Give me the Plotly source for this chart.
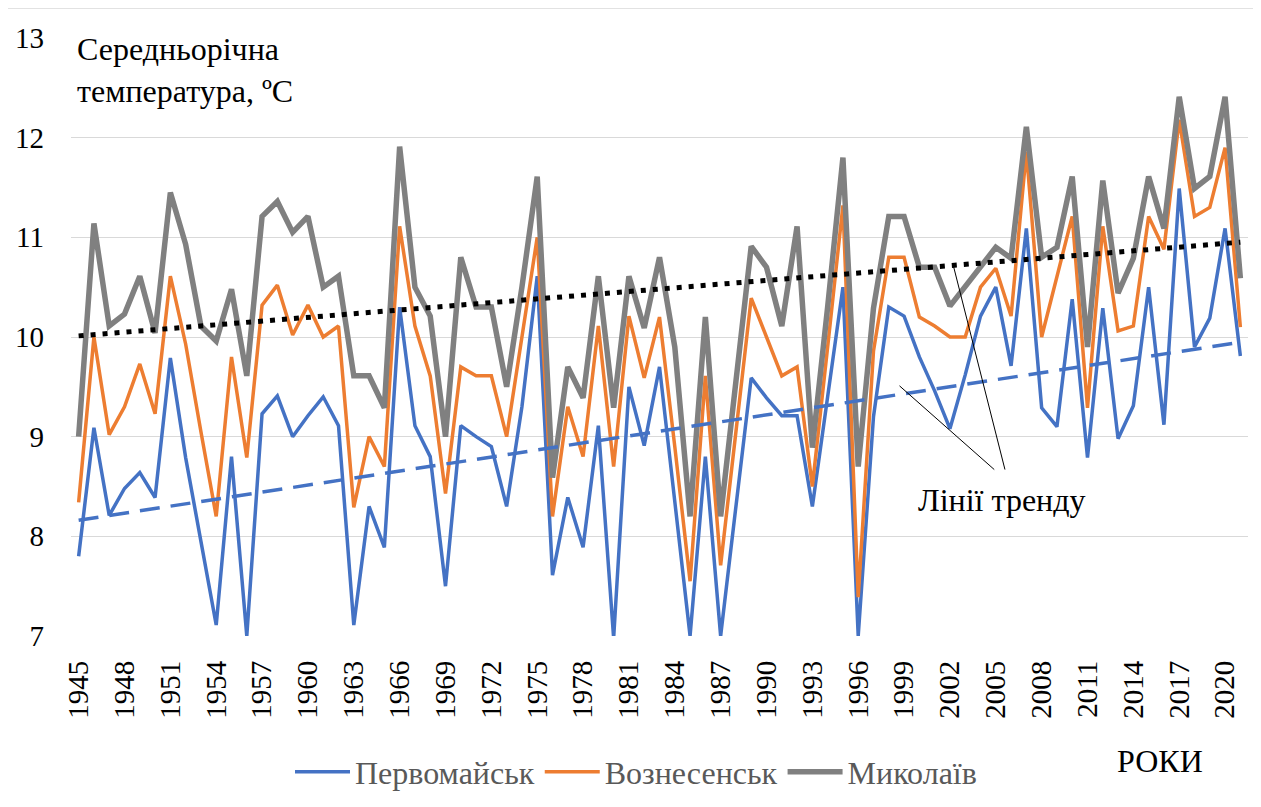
import numpy as np
import plotly.graph_objects as go

years = list(range(1945, 2022))

pervomaisk = [7.80, 9.09, 8.21, 8.48, 8.64, 8.39, 9.79, 8.79, 7.95, 7.11,
              8.80, 7.00, 9.23, 9.41, 9.00, 9.21, 9.40, 9.11, 7.11, 8.30,
              7.89, 10.30, 9.11, 8.80, 7.50, 9.11, 9.00, 8.90, 8.30, 9.30,
              10.61, 7.61, 8.39, 7.89, 9.11, 6.98, 9.50, 8.91, 9.70, 8.35,
              7.00, 8.80, 7.00, 8.30, 9.59, 9.39, 9.21, 9.21, 8.30, 9.40,
              10.50, 7.00, 9.20, 10.30, 10.21, 9.80, 9.46, 9.08, 9.62, 10.21,
              10.50, 9.71, 11.09, 9.29, 9.10, 10.38, 8.79, 10.29, 8.98, 9.31,
              10.50, 9.12, 11.49, 9.90, 10.19, 11.09, 9.81]

voznesensk = [8.34, 10.00, 9.02, 9.30, 9.73, 9.23, 10.61, 9.93, 9.05, 8.20,
              9.80, 8.79, 10.32, 10.52, 10.02, 10.32, 10.00, 10.11, 8.29, 9.00,
              8.70, 11.11, 10.11, 9.61, 8.43, 9.70, 9.61, 9.61, 9.00, 10.00,
              11.00, 8.20, 9.30, 8.80, 10.11, 8.70, 10.21, 9.59, 10.20, 8.90,
              7.55, 9.61, 7.71, 9.05, 10.39, 10.00, 9.61, 9.70, 8.50, 9.90,
              11.32, 7.39, 9.86, 10.80, 10.80, 10.20, 10.11, 10.00, 10.00, 10.50,
              10.69, 10.21, 11.86, 10.00, 10.60, 11.21, 9.29, 11.11, 10.06, 10.11,
              11.21, 10.88, 12.18, 11.21, 11.30, 11.90, 10.10]

mykolaiv = [9.00, 11.14, 10.11, 10.23, 10.61, 10.04, 11.45, 10.93, 10.11, 9.96,
            10.48, 9.61, 11.21, 11.36, 11.05, 11.21, 10.50, 10.61, 9.61, 9.61,
            9.29, 11.91, 10.50, 10.21, 9.00, 10.80, 10.30, 10.30, 9.50, 10.50,
            11.61, 8.59, 9.70, 9.39, 10.61, 9.29, 10.61, 10.09, 10.80, 9.90,
            8.20, 10.20, 8.20, 9.55, 10.91, 10.70, 10.11, 11.11, 8.89, 10.30,
            11.80, 8.70, 10.29, 11.21, 11.21, 10.70, 10.70, 10.31, 10.50, 10.71,
            10.90, 10.79, 12.11, 10.80, 10.90, 11.61, 9.90, 11.57, 10.44, 10.79,
            11.61, 11.09, 12.41, 11.49, 11.61, 12.41, 10.59]

series_names = ["Первомайськ", "Вознесенськ", "Миколаїв"]
tick_years = list(range(1945, 2021, 3))
y_ticks = [7, 8, 9, 10, 11, 12, 13]

# linear trends (as Excel trend lines)
yr = np.array(years, dtype=float)
p_myk = np.polyfit(yr, np.array(mykolaiv), 1)
p_per = np.polyfit(yr, np.array(pervomaisk), 1)
trend_myk = [float(v) for v in np.polyval(p_myk, yr)]
trend_per = [float(v) for v in np.polyval(p_per, yr)]

OFF = 8  # page body margin
W, H = 1261 - OFF, 807 - OFF
# plot area in screen pixels
SL, SR, ST, SB = 71, 1248, 38, 636
L, R, T, B = SL - OFF, SR - OFF, ST - OFF, SB - OFF


def px_x(px):
    return (px - SL) / (SR - SL)


def px_y(py):
    return (SB - py) / (SB - ST)


FONT = "Liberation Serif"

fig = go.Figure()
fig.add_trace(go.Scatter(x=years, y=pervomaisk, mode="lines", name=series_names[0],
                         line=dict(color="#4472C4", width=3.5)))
fig.add_trace(go.Scatter(x=years, y=voznesensk, mode="lines", name=series_names[1],
                         line=dict(color="#ED7D31", width=3.5)))
fig.add_trace(go.Scatter(x=years, y=mykolaiv, mode="lines", name=series_names[2],
                         line=dict(color="#808080", width=5.5)))
fig.add_trace(go.Scatter(x=years, y=trend_per, mode="lines", showlegend=False,
                         line=dict(color="#4472C4", width=3.5, dash="20px,11px")))
fig.add_trace(go.Scatter(x=years, y=trend_myk, mode="lines", showlegend=False,
                         line=dict(color="#000000", width=5, dash="5px,7px")))

# leader lines for the trend annotation
fig.add_shape(type="line", xref="x", yref="y", x0=2004.9, y0=8.67, x1=1998.7, y1=9.51,
              line=dict(color="black", width=1))
fig.add_shape(type="line", xref="x", yref="y", x0=2005.6, y0=8.67, x1=2002.2, y1=10.73,
              line=dict(color="black", width=1))

# white box behind title (covers top gridline)
fig.add_shape(type="rect", xref="paper", yref="paper", layer="above",
              x0=px_x(71), x1=px_x(338), y0=px_y(44), y1=px_y(32),
              fillcolor="white", line=dict(width=0))

# outer chart border
fig.add_shape(type="rect", xref="paper", yref="paper",
              x0=px_x(7), x1=px_x(1256), y0=px_y(815), y1=px_y(8),
              line=dict(color="#D9D9D9", width=1.5), fillcolor="rgba(0,0,0,0)")

fig.add_annotation(text="Середньорічна<br>температура, ºС", xref="paper", yref="paper",
                   x=px_x(75), y=px_y(29), xanchor="left", yanchor="top", align="left",
                   showarrow=False, font=dict(family=FONT, size=32, color="black"))
fig.add_annotation(text="Лінії тренду", xref="x", yref="y", x=2005.4, y=8.36,
                   xanchor="center", yanchor="middle", showarrow=False,
                   font=dict(family=FONT, size=32, color="black"))
fig.add_annotation(text="РОКИ", xref="paper", yref="paper", x=px_x(1160), y=px_y(761),
                   xanchor="center", yanchor="middle", showarrow=False,
                   font=dict(family=FONT, size=32, color="black"))

fig.update_layout(
    width=W, height=H,
    margin=dict(l=L, r=W - R, t=T, b=H - B, autoexpand=False),
    paper_bgcolor="white", plot_bgcolor="white",
    font=dict(family=FONT, color="black"),
    showlegend=True,
    legend=dict(orientation="h", x=px_x(636), xanchor="center", y=px_y(772), yanchor="middle",
                font=dict(family=FONT, size=32, color="#595959"), itemwidth=55,
                bgcolor="rgba(0,0,0,0)"),
    xaxis=dict(range=[1944.5, 2021.5], tickmode="array", tickvals=tick_years,
               ticktext=[str(v) for v in tick_years], tickangle=-90,
               showgrid=False, zeroline=False, showline=False, ticks="",
               tickfont=dict(family=FONT, size=29, color="black"), ticklabelstandoff=18),
    yaxis=dict(range=[7, 13], tickmode="array", tickvals=y_ticks,
               showgrid=True, gridcolor="#D9D9D9", gridwidth=1.3, zeroline=False,
               showline=False, ticks="",
               tickfont=dict(family=FONT, size=29, color="black"), ticklabelstandoff=26),
)

fig.write_html("out.html")
